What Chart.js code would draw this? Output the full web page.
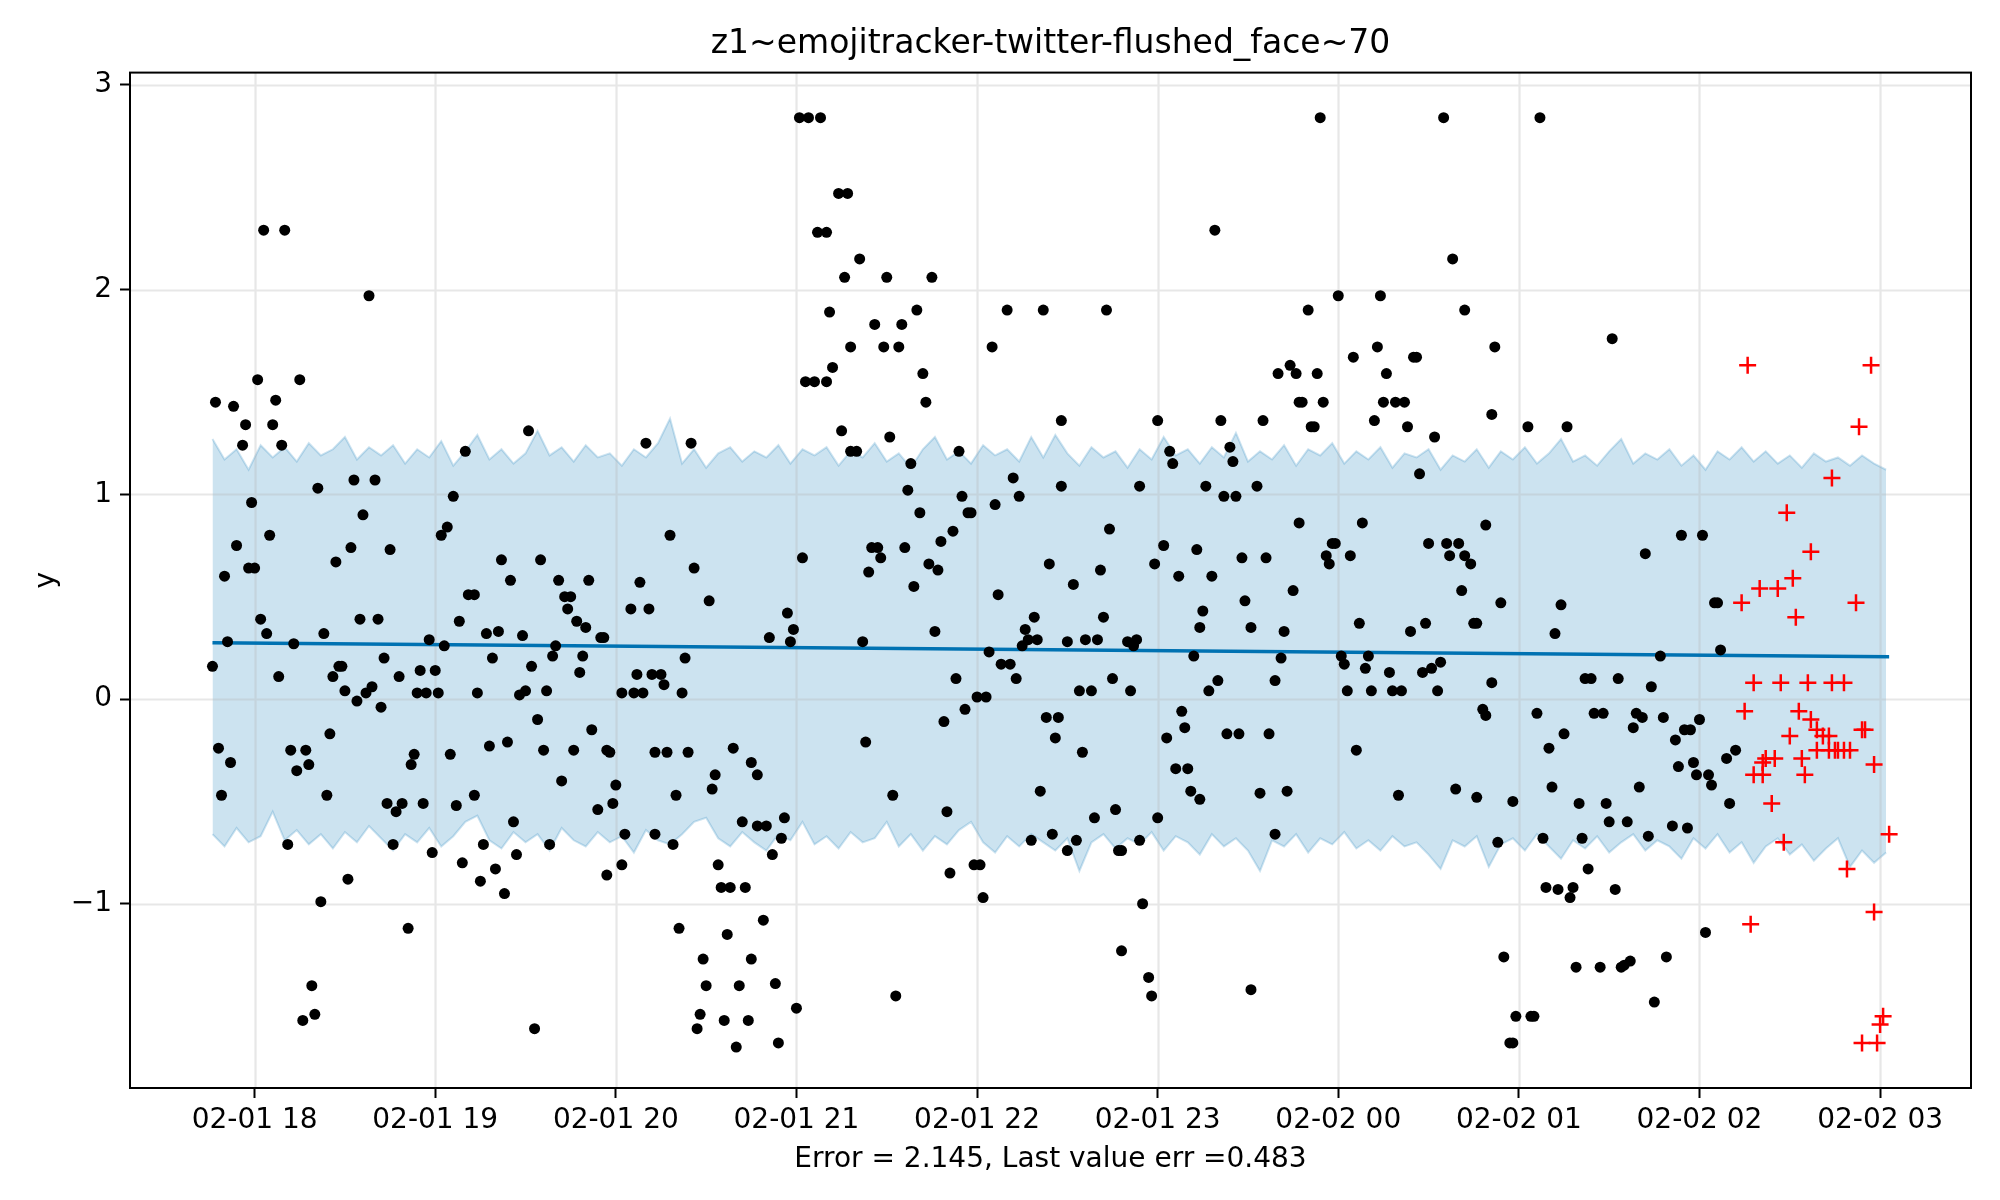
<!DOCTYPE html>
<html>
<head>
<meta charset="utf-8">
<title>z1~emojitracker-twitter-flushed_face~70</title>
<style>
  html, body { margin: 0; padding: 0; background: #fff; }
  #wrap { width: 2000px; height: 1200px; }
</style>
</head>
<body>
<div id="wrap"><canvas id="chart" width="2000" height="1200"></canvas></div>
<script src="https://cdn.jsdelivr.net/npm/chart.js@4.4.1/dist/chart.umd.min.js"></script>
<script>
// x values are minutes after 02-01 18:00
const xTickMinutes = [0, 60, 120, 180, 240, 300, 360, 420, 480, 540];
const xTickLabels = ["02-01 18", "02-01 19", "02-01 20", "02-01 21", "02-01 22",
  "02-01 23", "02-02 00", "02-02 01", "02-02 02", "02-02 03"];
const yTickValues = [-1, 0, 1, 2, 3];

// observed values (black dots)
const trainTime = [
  -14,-13,-12,-11,-10,-9,-8,-7,-6,-4,
  -3,-2,-1,0,1,2,3,4,5,6,
  7,8,9,10,11,12,13,14,15,16,
  17,18,19,20,21,22,23,24,25,26,
  27,28,29,30,31,32,33,34,35,36,
  37,38,39,40,41,42,43,44,45,46,
  47,48,49,51,52,53,54,55,56,57,
  58,59,60,61,62,63,64,65,66,67,
  68,69,70,71,73,73,74,75,76,77,
  78,79,80,81,82,83,84,85,86,87,
  88,89,90,91,92,93,94,95,96,97,
  98,99,100,101,102,103,104,105,106,107,
  108,109,110,111,112,114,115,116,117,117,
  118,119,120,122,122,123,125,126,127,128,
  129,130,131,132,133,133,135,136,137,138,
  139,140,141,142,143,144,145,146,147,148,
  149,150,151,152,153,154,155,156,157,158,
  159,160,161,162,163,164,165,165,167,167,
  169,170,171,172,173,174,175,176,177,178,
  179,180,181,182,183,184,186,187,188,190,
  190,191,192,194,197,201,196,210,225,206,
  215,220,198,209,214,222,223,195,211,198,
  200,218,217,221,234,235,237,238,232,228,
  224,227,219,216,205,207,208,204,202,226,
  203,212,229,233,236,230,240,243,244,247,
  246,245,250,262,252,254,248,251,253,255,
  256,257,259,260,264,268,268,270,263,267,
  266,261,213,231,239,241,242,258,265,270,
  273,272,275,276,280,274,278,282,281,284,
  283,285,279,286,290,293,292,291,294,300,
  299,302,304,305,307,300,303,308,309,306,
  310,311,314,312,313,314,315,316,317,318,
  319,320,321,322,326,324,325,323,327,328,
  329,331,333,335,336,337,334,339,340,341,
  342,343,344,345,346,347,347,287,288,288,
  294,295,297,298,331,339,350,353,348,355,
  351,352,360,374,365,373,376,375,379,382,
  372,383,385,386,392,387,402,411,412,358,
  359,356,357,364,368,367,361,362,370,369,
  363,371,377,378,381,366,380,384,389,388,
  391,394,393,390,396,400,397,402,404,401,
  405,406,409,411,408,409,399,406,354,395,
  398,413,414,415,417,418,418,419,423,424,
  425,426,427,428,429,430,431,432,433,434,
  435,436,437,438,439,440,441,442,443,444,
  445,447,448,449,450,451,452,453,454,455,
  456,457,458,459,460,461,462,463,464,465,
  467,468,469,471,472,473,474,475,476,477,
  478,479,480,481,482,483,484,485,486,487,
  489,490,492
];
const trainValue = [
  0.16,1.45,-0.24,-0.47,0.60,0.28,-0.31,1.43,0.75,1.24,
  1.34,0.64,0.96,0.64,1.56,0.39,2.29,0.32,0.80,1.34,
  1.46,0.11,1.24,2.29,-0.71,-0.25,0.27,-0.35,1.56,-1.57,
  -0.25,-0.32,-1.40,-1.54,1.03,-0.99,0.32,-0.47,-0.17,0.11,
  0.67,0.16,0.16,0.04,-0.88,0.74,1.07,-0.01,0.39,0.90,
  0.03,1.97,0.06,1.07,0.39,-0.04,0.20,-0.51,0.73,-0.71,
  -0.55,0.11,-0.51,-1.12,-0.32,-0.27,0.03,0.14,-0.51,0.03,
  0.29,-0.75,0.14,0.03,0.80,0.26,0.84,-0.27,0.99,-0.52,
  0.38,-0.80,1.21,0.51,0.51,-0.47,0.03,-0.89,-0.71,0.32,
  -0.23,0.20,-0.83,0.33,0.68,-0.95,-0.21,0.58,-0.60,-0.76,
  0.02,0.31,0.04,1.31,0.16,-1.61,-0.10,0.68,-0.25,0.04,
  -0.71,0.21,0.26,0.58,-0.40,0.50,0.44,0.50,-0.25,0.38,
  0.13,0.21,0.35,0.58,-0.15,-0.54,0.30,0.30,-0.25,-0.86,
  -0.26,-0.51,-0.42,0.03,-0.81,-0.66,0.44,0.03,0.12,0.57,
  0.03,1.25,0.44,0.12,-0.26,-0.66,0.12,0.07,-0.26,0.80,
  -0.71,-0.47,-1.12,0.03,0.20,-0.26,1.25,0.64,-1.61,-1.54,
  -1.27,-1.40,0.48,-0.44,-0.37,-0.81,-0.92,-1.57,-1.15,-0.92,
  -0.24,-1.70,-1.40,-0.60,-0.92,-1.57,-1.27,-0.31,-0.37,-0.62,
  -1.08,-0.62,0.30,-0.76,-1.39,-1.68,-0.68,-0.58,0.42,0.28,
  0.34,-1.51,2.84,0.69,1.55,2.84,1.55,2.28,2.84,1.55,
  2.28,1.89,1.62,2.47,2.47,2.15,2.06,2.06,2.06,1.83,
  1.83,1.90,1.72,1.72,1.72,1.59,1.45,1.31,1.28,1.21,
  1.21,1.15,1.02,0.91,1.21,0.99,0.91,0.91,0.82,0.77,
  0.66,0.63,0.55,0.74,0.74,0.74,0.69,0.62,0.28,0.33,
  -0.21,-0.47,-0.11,0.10,-0.05,-0.55,0.01,0.01,0.23,0.51,
  0.95,1.72,1.90,1.90,1.08,0.99,0.17,0.17,0.10,0.26,
  0.34,0.29,0.40,0.29,0.66,1.36,1.04,0.28,-0.09,-0.09,
  -0.19,-0.45,-1.45,-0.85,-0.81,-0.81,-0.97,-0.69,-0.66,-0.74,
  -0.69,0.56,-0.26,0.29,0.29,0.04,0.04,0.40,0.63,0.83,
  1.90,0.10,-0.58,-0.54,0.28,0.29,0.26,0.04,1.04,1.36,
  0.66,0.75,1.21,1.15,0.60,-0.58,-0.19,-0.06,-0.14,-0.34,
  -0.34,-0.45,-0.49,0.21,0.73,0.35,0.43,1.04,0.04,0.60,
  2.29,0.09,1.36,0.99,0.99,1.23,1.16,-0.17,-0.17,0.69,
  0.48,0.35,1.04,1.36,0.69,-0.17,-0.46,0.09,1.59,0.20,
  0.33,-0.45,1.63,0.53,1.59,0.86,1.45,-0.74,-0.74,-1.23,
  -0.69,-1.00,-1.36,-1.45,-1.42,-0.66,1.90,1.59,1.45,1.45,
  1.33,1.33,1.97,1.97,1.67,1.72,1.59,1.45,1.45,1.45,
  1.36,1.33,1.67,1.67,1.28,1.10,1.90,1.39,1.72,0.76,
  0.76,0.70,0.66,0.70,0.86,0.37,0.21,0.17,0.21,0.15,
  0.04,0.04,0.13,0.04,0.04,-0.25,-0.47,0.33,0.37,0.13,
  0.15,0.18,0.04,0.76,0.76,0.76,0.70,0.70,0.66,0.53,
  0.37,0.37,0.85,0.08,-0.05,-0.08,-0.44,-0.48,2.84,2.84,
  2.15,-0.70,0.47,-1.26,-1.68,-1.68,-0.50,-1.55,1.33,-1.55,
  -1.55,-0.07,2.84,-0.68,-0.92,-0.24,-0.43,0.32,-0.93,0.46,
  -0.17,1.33,-0.97,-0.92,-1.31,-0.51,-0.68,0.10,-0.83,0.10,
  -0.07,-1.31,-0.07,-0.51,-0.60,1.76,-0.93,0.10,-1.31,-1.30,
  -0.60,-1.28,-0.14,-0.07,-0.43,-0.09,0.71,-0.67,0.06,-1.48,
  0.21,-0.09,-1.26,-0.62,-0.20,-0.33,0.80,-0.15,-0.63,-0.15,
  -0.31,-0.37,-0.10,0.80,-1.14,-0.37,-0.42,0.47,0.47,0.24,
  -0.29,-0.51,-0.25
];

// held-out values (red crosses)
const testTime = [
  494,495,496,497,498,498,500,501,501,502,
  504,505,506,507,508,509,510,511,512,513,
  514,515,516,517,517,519,519,521,523,523,
  524,524,525,526,528,528,529,530,532,533,
  534,534,535,537,538,538,539,540,541,543
];
const testValue = [
  0.47,-0.06,1.63,-1.10,0.08,-0.37,0.54,-0.31,-0.37,-0.29,
  -0.51,-0.29,0.54,0.08,-0.70,0.91,-0.18,0.59,0.40,-0.06,
  -0.29,-0.37,0.08,0.72,-0.10,-0.15,-0.25,-0.18,-0.18,-0.25,
  1.08,0.08,-0.25,-0.25,0.08,-0.25,-0.83,-0.25,0.47,1.33,
  -0.15,-1.68,-0.15,1.63,-0.32,-1.04,-1.68,-1.59,-1.55,-0.66
];

// trend line end points
const trendTime = [-14, 543];
const trendValue = [0.275, 0.207];

// uncertainty band, one reading every 4 minutes from 17:46
const bandStartMinute = -14;
const bandStepMinutes = 4;
const bandUpper = [
  1.27,1.17,1.22,1.12,1.24,1.18,1.23,1.16,1.25,1.19,
  1.22,1.28,1.17,1.23,1.19,1.24,1.15,1.22,1.18,1.26,
  1.14,1.21,1.29,1.17,1.22,1.15,1.20,1.31,1.19,1.23,
  1.16,1.24,1.18,1.20,1.14,1.22,1.18,1.25,1.37,1.15,
  1.22,1.13,1.20,1.23,1.16,1.21,1.18,1.24,1.15,1.22,
  1.19,1.23,1.14,1.21,1.18,1.25,1.16,1.20,1.13,1.22,
  1.28,1.17,1.21,1.15,1.24,1.19,1.22,1.16,1.28,1.18,
  1.29,1.20,1.14,1.23,1.18,1.21,1.13,1.22,1.17,1.28,
  1.19,1.22,1.15,1.23,1.18,1.30,1.16,1.21,1.17,1.24,
  1.14,1.22,1.19,1.25,1.15,1.21,1.17,1.23,1.13,1.20,
  1.18,1.22,1.12,1.19,1.16,1.22,1.13,1.21,1.17,1.23,
  1.15,1.20,1.27,1.16,1.19,1.14,1.21,1.27,1.15,1.20,
  1.17,1.22,1.14,1.19,1.12,1.21,1.17,1.23,1.16,1.21,
  1.15,1.19,1.13,1.20,1.16,1.18,1.14,1.19,1.15,1.12
];
const bandLower = [
  -0.66,-0.72,-0.63,-0.70,-0.67,-0.55,-0.69,-0.64,-0.71,-0.66,
  -0.73,-0.65,-0.70,-0.62,-0.68,-0.74,-0.66,-0.70,-0.63,-0.72,
  -0.67,-0.60,-0.57,-0.69,-0.73,-0.65,-0.70,-0.66,-0.74,-0.63,
  -0.69,-0.72,-0.65,-0.70,-0.67,-0.75,-0.64,-0.69,-0.71,-0.66,
  -0.60,-0.58,-0.68,-0.72,-0.65,-0.70,-0.74,-0.66,-0.69,-0.60,
  -0.71,-0.67,-0.73,-0.65,-0.70,-0.68,-0.60,-0.72,-0.66,-0.74,
  -0.67,-0.71,-0.64,-0.60,-0.70,-0.75,-0.67,-0.72,-0.66,-0.70,
  -0.74,-0.68,-0.84,-0.70,-0.66,-0.73,-0.68,-0.71,-0.65,-0.74,
  -0.67,-0.70,-0.76,-0.66,-0.72,-0.68,-0.74,-0.84,-0.69,-0.72,
  -0.66,-0.75,-0.68,-0.71,-0.65,-0.73,-0.69,-0.74,-0.67,-0.72,
  -0.70,-0.76,-0.83,-0.69,-0.72,-0.67,-0.82,-0.71,-0.68,-0.74,
  -0.66,-0.72,-0.78,-0.69,-0.73,-0.67,-0.75,-0.70,-0.66,-0.74,
  -0.69,-0.72,-0.78,-0.68,-0.73,-0.66,-0.75,-0.70,-0.80,-0.72,
  -0.68,-0.76,-0.71,-0.79,-0.73,-0.68,-0.82,-0.74,-0.80,-0.75
];

const toPoints = (xs, ys) => xs.map((x, i) => ({ x: x, y: ys[i] }));
const bandPoints = vals => vals.map((v, i) => ({ x: bandStartMinute + i * bandStepMinutes, y: v }));

const FONT = "'DejaVu Sans', 'Liberation Sans', sans-serif";
const gridColor = "rgba(176,176,176,0.3)";

// grid goes over the band but under the line and the dots, like matplotlib
const gridPlugin = {
  id: "gridOverBand",
  beforeDatasetDraw(chart, args) {
    if (args.index !== 2) return;
    const { ctx, chartArea: a, scales } = chart;
    ctx.save();
    ctx.strokeStyle = gridColor;
    ctx.lineWidth = 2.2;
    ctx.beginPath();
    xTickMinutes.forEach(m => {
      const px = Math.round(scales.x.getPixelForValue(m)) + 0.5;
      ctx.moveTo(px, a.top);
      ctx.lineTo(px, a.bottom);
    });
    yTickValues.forEach(v => {
      const py = Math.round(scales.y.getPixelForValue(v)) + 0.5;
      ctx.moveTo(a.left, py);
      ctx.lineTo(a.right, py);
    });
    ctx.stroke();
    ctx.restore();
  }
};

const framePlugin = {
  id: "frame",
  afterDraw(chart) {
    const { ctx, chartArea: a } = chart;
    ctx.save();
    ctx.strokeStyle = "#000";
    ctx.lineWidth = 2;
    ctx.strokeRect(a.left, a.top, a.right - a.left, a.bottom - a.top);
    ctx.restore();
  }
};

new Chart(document.getElementById("chart").getContext("2d"), {
  type: "line",
  data: {
    datasets: [
      {
        label: "observed",
        data: toPoints(trainTime, trainValue),
        showLine: false,
        pointRadius: 5.5,
        pointBackgroundColor: "#000",
        pointBorderWidth: 0
      },
      {
        label: "held out",
        data: toPoints(testTime, testValue),
        showLine: false,
        pointStyle: "cross",
        pointRadius: 8.5,
        pointBorderColor: "#ff0000",
        pointBorderWidth: 2.5
      },
      {
        label: "trend",
        data: toPoints(trendTime, trendValue),
        borderColor: "#0072B2",
        borderWidth: 3.5,
        pointRadius: 0,
        fill: false
      },
      {
        label: "upper",
        data: bandPoints(bandUpper),
        borderColor: "rgba(0,114,178,0.2)",
        borderWidth: 2,
        pointRadius: 0,
        tension: 0,
        fill: "+1",
        backgroundColor: "rgba(0,114,178,0.2)"
      },
      {
        label: "lower",
        data: bandPoints(bandLower),
        borderColor: "rgba(0,114,178,0.2)",
        borderWidth: 2,
        pointRadius: 0,
        tension: 0,
        fill: false
      }
    ]
  },
  options: {
    responsive: false,
    devicePixelRatio: 1,
    animation: false,
    events: [],
    layout: { padding: { left: 0, right: 29, top: 0, bottom: 0 } },
    plugins: {
      legend: { display: false },
      tooltip: { enabled: false },
      title: {
        display: true,
        fullSize: false,
        text: "z1~emojitracker-twitter-flushed_face~70",
        color: "#000",
        font: { family: FONT, size: 33, weight: "normal", lineHeight: 1.2 },
        padding: { top: 25, bottom: 8 }
      }
    },
    scales: {
      x: {
        type: "linear",
        min: -41.4,
        max: 570.2,
        afterBuildTicks: scale => { scale.ticks = xTickMinutes.map(v => ({ value: v })); },
        afterFit: scale => { scale.height = 112; },
        ticks: {
          color: "#000",
          font: { family: FONT, size: 28 },
          padding: 6,
          maxRotation: 0,
          autoSkip: false,
          callback: (value, index) => xTickLabels[index]
        },
        grid: { drawOnChartArea: false, drawTicks: true, tickLength: 10, tickColor: "#000", tickWidth: 2 },
        border: { display: false },
        title: {
          display: true,
          text: "Error = 2.145, Last value err =0.483",
          color: "#000",
          font: { family: FONT, size: 28, lineHeight: 1.2 },
          padding: { top: 0, bottom: 23 }
        }
      },
      y: {
        type: "linear",
        min: -1.90,
        max: 3.06,
        afterBuildTicks: scale => { scale.ticks = yTickValues.map(v => ({ value: v })); },
        afterFit: scale => { scale.width = 130; },
        ticks: {
          color: "#000",
          font: { family: FONT, size: 28 },
          padding: 8,
          callback: value => (value < 0 ? "\u2212" + Math.abs(value) : String(value))
        },
        grid: { drawOnChartArea: false, drawTicks: true, tickLength: 10, tickColor: "#000", tickWidth: 2 },
        border: { display: false },
        title: {
          display: true,
          text: "y",
          color: "#000",
          font: { family: FONT, size: 28, lineHeight: 1.2 },
          padding: { top: 30, bottom: 0 }
        }
      }
    }
  },
  plugins: [gridPlugin, framePlugin]
});
</script>
</body>
</html>
